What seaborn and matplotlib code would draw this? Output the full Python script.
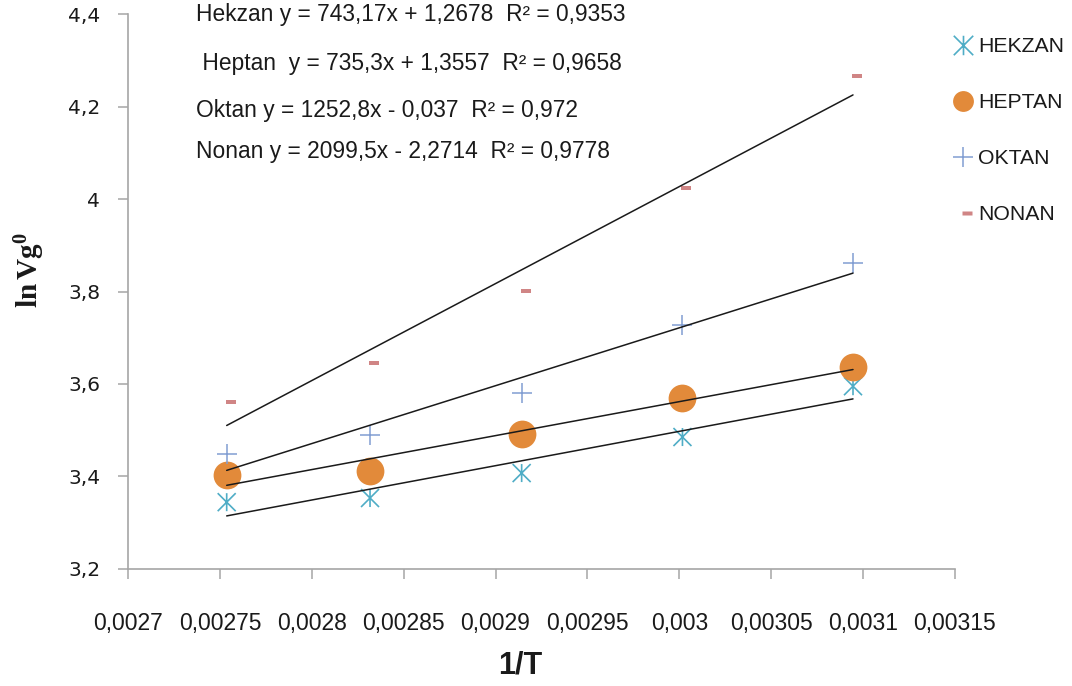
import matplotlib
matplotlib.use("Agg")
import numpy as np
import pandas as pd
import matplotlib.pyplot as plt
import seaborn as sns
from matplotlib.path import Path
from matplotlib.ticker import FuncFormatter
from matplotlib.lines import Line2D

# ---- data -------------------------------------------------------------
inv_T = [0.0027537, 0.0028317, 0.0029142, 0.0030017, 0.0030945]

hekzan = [3.344, 3.353, 3.407, 3.485, 3.595]
heptan = [3.403, 3.411, 3.492, 3.570, 3.637]
oktan = [3.448, 3.489, 3.580, 3.728, 3.862]
nonan = [3.561, 3.645, 3.801, 4.024, 4.267]

series_names = ["Hekzan", "Heptan", "Oktan", "Nonan"]
legend_labels = ["HEKZAN", "HEPTAN", "OKTAN", "NONAN"]

# linear trend lines: slope, intercept, R²
slopes = [743.17, 735.3, 1252.8, 2099.5]
intercepts = [1.2678, 1.3557, -0.037, -2.2714]
r_squared = [0.9353, 0.9658, 0.972, 0.9778]

equation_texts = [
    "Hekzan y = 743,17x + 1,2678  R² = 0,9353",
    " Heptan  y = 735,3x + 1,3557  R² = 0,9658",
    "Oktan y = 1252,8x - 0,037  R² = 0,972",
    "Nonan y = 2099,5x - 2,2714  R² = 0,9778",
]

x_ticks = [0.0027, 0.00275, 0.0028, 0.00285, 0.0029, 0.00295, 0.003,
           0.00305, 0.0031, 0.00315]
y_ticks = [3.2, 3.4, 3.6, 3.8, 4.0, 4.2, 4.4]

# ---- styling ----------------------------------------------------------
sns.set_style("white")
SANS = ["Liberation Sans", "DejaVu Sans"]
plt.rcParams["font.family"] = SANS
plt.rcParams["mathtext.fontset"] = "custom"
plt.rcParams["mathtext.bf"] = "Liberation Serif:bold"
plt.rcParams["mathtext.rm"] = "Liberation Serif:bold"
plt.rcParams["mathtext.it"] = "Liberation Serif:bold"

colors = ["#4FADC6", "#E28A3A", "#819ED2", "#D08585"]
TEXT = "#1a1a1a"
AXIS = "#A6A6A6"

# marker shapes
asterisk = Path(
    [(-9, -9), (9, 9), (-9, 9), (9, -9), (0, -9), (0, 9)],
    [Path.MOVETO, Path.LINETO, Path.MOVETO, Path.LINETO, Path.MOVETO, Path.LINETO],
)
dash = Path(
    [(-1, -2.2), (9, -2.2), (9, 2.2), (-1, 2.2), (-1, -2.2)],
    [Path.MOVETO, Path.LINETO, Path.LINETO, Path.LINETO, Path.CLOSEPOLY],
)

W, H = 1072, 686
fig = plt.figure(figsize=(W / 100, H / 100), dpi=100)
ax = fig.add_axes([128 / W, 1 - 568.7 / H, (955 - 128) / W, (568.7 - 14.3) / H])

values = [hekzan, heptan, oktan, nonan]
df = pd.DataFrame({"x": inv_T * 4,
                   "y": np.concatenate(values),
                   "seri": np.repeat(series_names, len(inv_T))})

# trend lines
for s, b in zip(slopes, intercepts):
    xs = np.array([inv_T[0], inv_T[-1]])
    sns.lineplot(x=xs, y=s * xs + b, color=TEXT, linewidth=1.1, ax=ax,
                 sort=False, estimator=None)

# points
sub = df[df.seri == "Hekzan"]
sns.scatterplot(data=sub, x="x", y="y", marker=asterisk, s=168,
                facecolor="none", edgecolor=colors[0], linewidth=1.2, ax=ax)
sub = df[df.seri == "Heptan"]
sns.scatterplot(data=sub, x="x", y="y", marker="o", s=400,
                color=colors[1], edgecolor=colors[1], linewidth=0, ax=ax)
sub = df[df.seri == "Oktan"]
sns.scatterplot(data=sub, x="x", y="y", marker="+", s=190,
                color=colors[2], linewidth=1.1, ax=ax)
sub = df[df.seri == "Nonan"]
sns.scatterplot(data=sub, x="x", y="y", marker=dash, s=168,
                color=colors[3], edgecolor="none", linewidth=0, ax=ax)

# axes
ax.set_xlim(0.0027, 0.00315)
ax.set_ylim(3.2, 4.4)
ax.set_xticks(x_ticks)
ax.set_yticks(y_ticks)


def comma_fmt(v, pos=None):
    txt = f"{round(v, 6):.5f}".rstrip("0").rstrip(".")
    return txt.replace(".", ",")


ax.xaxis.set_major_formatter(FuncFormatter(comma_fmt))
ax.yaxis.set_major_formatter(FuncFormatter(comma_fmt))
sns.despine(ax=ax)
for sp in ("left", "bottom"):
    ax.spines[sp].set_color(AXIS)
    ax.spines[sp].set_linewidth(1.2)
ax.tick_params(axis="both", which="major", bottom=True, left=True,
               direction="out", length=7, width=1.1,
               color=AXIS, labelcolor=TEXT)
ax.tick_params(axis="x", pad=24, labelsize=16.5)
ax.tick_params(axis="y", pad=13, labelsize=14.5)
for lab in ax.get_yticklabels():
    lab.set_family(["DejaVu Sans"])
for lab in ax.get_xticklabels():
    lab.set_family(SANS)
ax.set_xlabel("")
ax.set_ylabel("")

# axis titles
fig.text(520 / W, 1 - 666 / H, "1/T", ha="center", va="center",
         fontsize=22, fontweight="bold", family=SANS, color=TEXT)
fig.text(30 / W, 1 - 270 / H, r"$\mathbf{ln\,Vg^{0}}$", rotation=90,
         ha="center", va="center", fontsize=21, color=TEXT)

# regression equations
baselines = [21, 70, 117, 158]
for txt, yb in zip(equation_texts, baselines):
    fig.text(196 / W, 1 - yb / H, txt, ha="left", va="baseline",
             fontsize=16.4, family=SANS, color=TEXT)

# legend
handles = [
    Line2D([], [], linestyle="none", marker=asterisk, markersize=14,
           markerfacecolor="none", markeredgecolor=colors[0], markeredgewidth=1.2),
    Line2D([], [], linestyle="none", marker="o", markersize=15,
           markerfacecolor=colors[1], markeredgecolor=colors[1], markeredgewidth=0),
    Line2D([], [], linestyle="none", marker="+", markersize=14,
           markeredgecolor=colors[2], markeredgewidth=1.1),
    Line2D([], [], linestyle="none", marker=dash, markersize=13,
           markerfacecolor=colors[3], markeredgecolor="none"),
]
leg = fig.legend(handles, legend_labels, loc="upper left",
                 bbox_to_anchor=(950 / W, 1 - 37.5 / H), frameon=False,
                 prop={"family": SANS, "size": 15.3}, handlelength=1.22,
                 handletextpad=0.1, labelspacing=1.74, borderpad=0,
                 borderaxespad=0)
for t in leg.get_texts():
    t.set_color(TEXT)

fig.savefig("out.png", dpi=100)
